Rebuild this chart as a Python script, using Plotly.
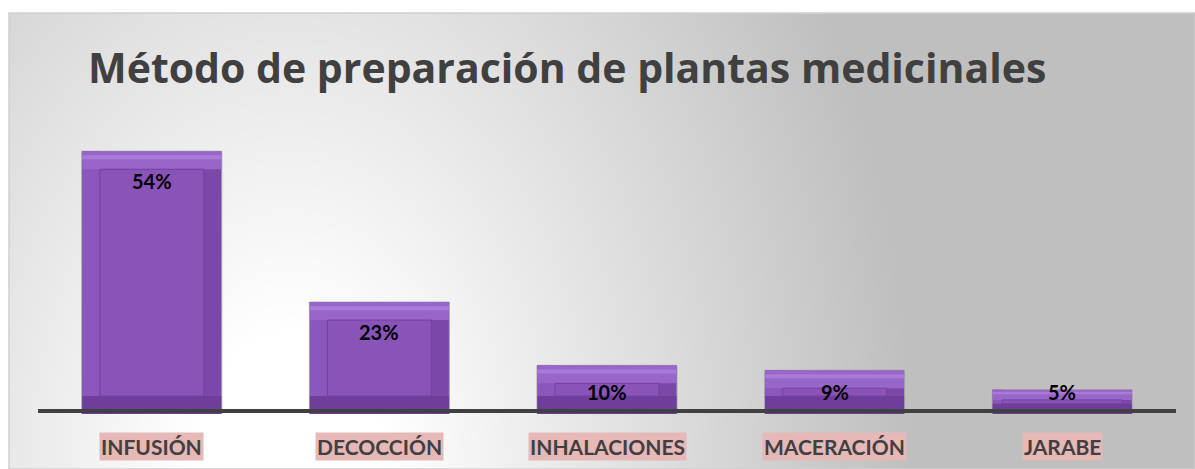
import numpy as np
import plotly.graph_objects as go

W, H = 1195, 469

categories = ["INFUSIÓN", "DECOCCIÓN", "INHALACIONES", "MACERACIÓN", "JARABE"]
values = [54, 23, 10, 9, 5]
value_labels = ["54%", "23%", "10%", "9%", "5%"]

title = "Método de preparación de plantas medicinales"

# pixel layout of the plot area
plot_left, plot_right = 38, 1176
zero_px, top_px = 414, 122
y_max = 60
ppu = (zero_px - top_px) / y_max          # pixels per percent
cat_px = (plot_right - plot_left) / len(categories)
bar_w = 0.615

# bevel sizes (shrink for short bars like Excel does)
bev_px = [min(18, v * ppu * 0.42) for v in values]
bev_y = [b / ppu for b in bev_px]
bev_x = [b / cat_px for b in bev_px]

fig = go.Figure()

# ── background gradient (elliptical, light at lower left) ────────────────
gx = np.linspace(9, W, 120)
gy = np.linspace(13, H, 60)
XX, YY = np.meshgrid(gx, gy)
t = np.sqrt(((XX - 290) / 620) ** 2 + ((YY - 469) / 900) ** 2)
shade = 1 - np.clip((t - 0.15) / 0.85, 0, 1)
fig.add_trace(go.Heatmap(
    x=gx, y=gy, z=shade, zmin=0, zmax=1, zsmooth="best",
    colorscale=[[0, "#bfbfbf"], [1, "#ffffff"]],
    showscale=False, hoverinfo="skip", xaxis="x", yaxis="y",
))

# ── bevelled bars ────────────────────────────────────────────────────────
common = dict(x=categories, xaxis="x2", yaxis="y2", hoverinfo="skip",
              showlegend=False)

# outer body (right-side shade)
fig.add_trace(go.Bar(y=values, width=bar_w,
                     marker=dict(color="#7b47a9", line=dict(color="#a8a8a8", width=1)),
                     **common))
# left bevel
fig.add_trace(go.Bar(y=values, width=bev_x, offset=-bar_w / 2 + 0.002,
                     marker=dict(color="#8b57bc", line=dict(width=0)), **common))
# bottom bevel
fig.add_trace(go.Bar(y=bev_y, base=0, width=bar_w - 0.004,
                     marker=dict(color="#6f3d9a", line=dict(width=0)), **common))
# top bevel
fig.add_trace(go.Bar(y=bev_y, base=[v - b for v, b in zip(values, bev_y)],
                     width=bar_w - 0.004,
                     marker=dict(color="#9866c8", line=dict(width=0)), **common))
# top highlight stripe
fig.add_trace(go.Bar(y=[b * 0.22 for b in bev_y],
                     base=[v - b * 0.45 for v, b in zip(values, bev_y)],
                     width=bar_w - 0.004,
                     marker=dict(color="#a87bd6", line=dict(width=0)), **common))
# inner face
fig.add_trace(go.Bar(y=[v - 2 * b for v, b in zip(values, bev_y)], base=bev_y,
                     width=[bar_w - 2 * bx for bx in bev_x],
                     marker=dict(color="#8a53b8", line=dict(color="#74429f", width=1)),
                     **common))

# value labels: inside end, kept above the baseline
for c, v, lab in zip(categories, values, value_labels):
    shift = -min(30, v * ppu - 22)
    fig.add_annotation(x=c, y=v, xref="x2", yref="y2", yshift=shift,
                       text=f"<b>{lab}</b>", showarrow=False,
                       font=dict(family="Lato", size=20, color="#000000"),
                       xanchor="center", yanchor="middle")

# category labels with pink highlight
for c in categories:
    fig.add_annotation(x=c, y=1 - 446 / H, xref="x2", yref="paper",
                       text=f"<b>{c}</b>", showarrow=False,
                       font=dict(family="Lato", size=21, color="#404040"),
                       bgcolor="#e6b8b7", borderpad=1,
                       xanchor="center", yanchor="middle")

# title
fig.add_annotation(x=86 / W, y=1 - 67 / H, xref="paper", yref="paper",
                   text=f"<b>{title}</b>", showarrow=False,
                   font=dict(family="Open Sans", size=41, color="#404040"),
                   xanchor="left", yanchor="middle")

# axis baseline
fig.add_shape(type="line", xref="paper", yref="paper",
              x0=plot_left / W, x1=plot_right / W,
              y0=1 - 411 / H, y1=1 - 411 / H,
              line=dict(color="#404040", width=4), layer="above")

# chart frame
fig.add_shape(type="rect", xref="paper", yref="paper",
              x0=9 / W, x1=1, y0=0, y1=1 - 13 / H,
              line=dict(color="#d0d0d0", width=1.5), layer="above")

fig.update_layout(
    width=W, height=H,
    margin=dict(l=0, r=0, t=0, b=0),
    paper_bgcolor="#ffffff",
    plot_bgcolor="rgba(0,0,0,0)",
    barmode="overlay",
    showlegend=False,
    xaxis=dict(domain=[9 / W, 1], range=[9, W], visible=False, fixedrange=True),
    yaxis=dict(domain=[0, 1 - 13 / H], range=[H, 13], visible=False, fixedrange=True),
    xaxis2=dict(domain=[plot_left / W, plot_right / W], range=[-0.5, 4.5],
                visible=False, anchor="y2"),
    yaxis2=dict(domain=[1 - zero_px / H, 1 - top_px / H], range=[0, y_max],
                visible=False, anchor="x2"),
)

fig.write_html("out.html", config={"displayModeBar": False},
               post_script="document.body.style.margin='0';")
